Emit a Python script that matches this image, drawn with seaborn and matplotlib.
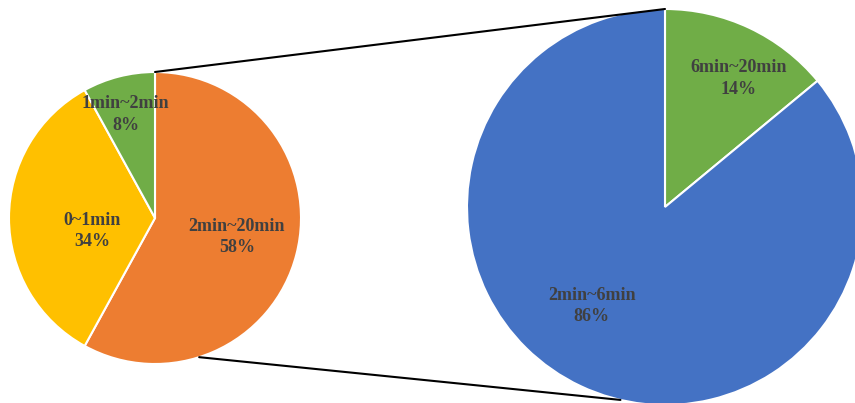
import matplotlib
matplotlib.use("Agg")
import matplotlib.pyplot as plt
from matplotlib.patches import ConnectionPatch
import numpy as np
import seaborn as sns

# ---- data ----
main_labels = ["2min~20min", "0~1min", "1min~2min"]
main_values = [58, 34, 8]
sub_labels = ["6min~20min", "2min~6min"]
sub_values = [14, 86]

# ---- style ----
sns.set_theme(style="white")
plt.rcParams["font.family"] = ["Liberation Serif", "DejaVu Serif"]
main_colors = ["#ED7D31", "#FFC000", "#70AD47"]
sub_colors = ["#70AD47", "#4472C4"]
text_color = "#404040"

W, H = 855, 403
fig = plt.figure(figsize=(W / 100, H / 100), dpi=100)
fig.patch.set_facecolor("white")

def add_pie_axes(cx, cy, r):
    return fig.add_axes([(cx - r) / W, (H - cy - r) / H, 2 * r / W, 2 * r / H])

ax1 = add_pie_axes(155, 218, 146)
ax2 = add_pie_axes(665, 207, 198)

for ax, vals, cols in [(ax1, main_values, main_colors), (ax2, sub_values, sub_colors)]:
    ax.pie(vals, colors=cols, startangle=90, counterclock=False, radius=1,
           wedgeprops=dict(edgecolor="white", linewidth=1.5))
    ax.set_xlim(-1, 1)
    ax.set_ylim(-1, 1)
    ax.set_aspect("equal")
    ax.axis("off")

# label positions (pie data coords)
main_pos = [(0.56, -0.13), (-0.43, -0.09), (-0.20, 0.71)]
sub_pos = [(0.37, 0.65), (-0.37, -0.50)]

for ax, labs, vals, pos in [(ax1, main_labels, main_values, main_pos),
                            (ax2, sub_labels, sub_values, sub_pos)]:
    for lab, v, (x, y) in zip(labs, vals, pos):
        ax.text(x, y, f"{lab}\n{v}%", ha="center", va="center", fontsize=13,
                fontweight="bold", color=text_color, linespacing=1.35)

# connector lines
a_top = np.deg2rad(90)
con1 = ConnectionPatch(xyA=(np.cos(a_top), np.sin(a_top)), coordsA=ax1.transData,
                       xyB=(np.cos(a_top), np.sin(a_top)), coordsB=ax2.transData,
                       color="black", linewidth=1.5)
a1 = np.deg2rad(-72.4)
a2 = np.deg2rad(-103.0)
con2 = ConnectionPatch(xyA=(np.cos(a1), np.sin(a1)), coordsA=ax1.transData,
                       xyB=(np.cos(a2), np.sin(a2)), coordsB=ax2.transData,
                       color="black", linewidth=1.5)
fig.add_artist(con1)
fig.add_artist(con2)

fig.savefig("out.png", dpi=100, facecolor="white")
